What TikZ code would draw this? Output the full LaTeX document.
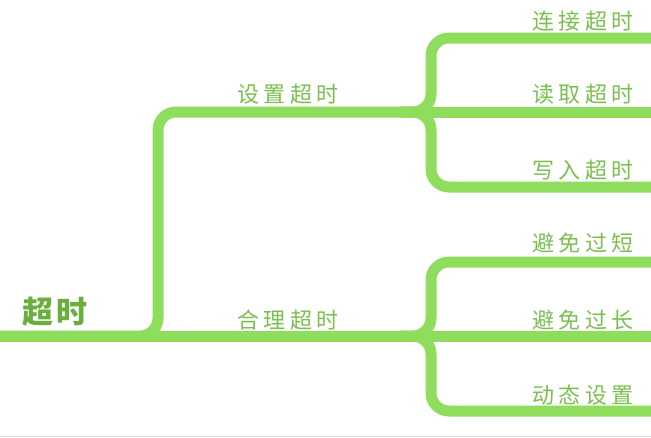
\documentclass[tikz,border=0pt]{standalone}
\usepackage{fontspec}
\newfontfamily\cjk{Noto Sans CJK SC}[LetterSpace=20]
\newfontfamily\cjkroot{Noto Sans CJK SC}[LetterSpace=8]
\definecolor{branch}{HTML}{8FDD5C}
\definecolor{txt}{HTML}{7BBF4F}
\definecolor{roottxt}{HTML}{6AAE3E}
\tikzset{
  conn/.style={draw=branch, line width=11pt, rounded corners=18pt, line cap=butt},
  lbl/.style={text=txt, font=\cjk\fontsize{22}{22}\selectfont, inner sep=0pt, anchor=center},
  rootlbl/.style={text=roottxt, font=\cjkroot\bfseries\fontsize{31}{31}\selectfont, inner sep=0pt, anchor=center}
}
\begin{document}
\begin{tikzpicture}[x=1pt,y=-1pt]
\useasboundingbox (0,0) rectangle (651,437);
\fill[white] (0,0) rectangle (651,437);
\draw[gray!25, line width=1pt] (0,436) -- (651,436);
% coordinates
\coordinate (rs) at (0,336);
\coordinate (b1) at (431,112);
\coordinate (b2) at (431,336);
\coordinate (e1) at (651,38);
\coordinate (e2) at (651,112);
\coordinate (e3) at (651,187);
\coordinate (e4) at (651,262);
\coordinate (e5) at (651,336);
\coordinate (e6) at (651,411);
% connectors
\path[conn] (rs) -- (b2);
\path[conn] (rs) -| (158,112) -- (b1);
\path[conn] (b1) -- (e2);
\path[conn] (400,112) -| (431,38) -- (e1);
\path[conn] (400,112) -| (431,187) -- (e3);
\path[conn] (b2) -- (e5);
\path[conn] (400,336) -| (431,262) -- (e4);
\path[conn] (400,336) -| (431,411) -- (e6);
% labels
\node[rootlbl] (root) at (55,312) {超时};
\node[lbl] (n1) at (288,94) {设置超时};
\node[lbl] (n2) at (288,320) {合理超时};
\node[lbl] (l1) at (583,21) {连接超时};
\node[lbl] (l2) at (583,94) {读取超时};
\node[lbl] (l3) at (583,170) {写入超时};
\node[lbl] (l4) at (583,243) {避免过短};
\node[lbl] (l5) at (583,320) {避免过长};
\node[lbl] (l6) at (583,395) {动态设置};
\end{tikzpicture}
\end{document}
